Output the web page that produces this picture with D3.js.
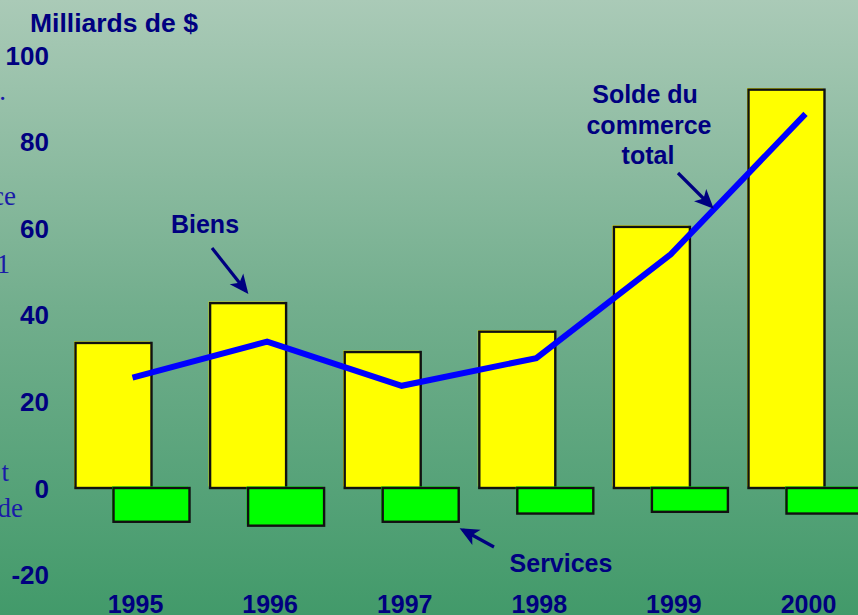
<!DOCTYPE html>
<html><head><meta charset="utf-8">
<script src="https://cdn.jsdelivr.net/npm/d3@7"></script>
<style>html,body{margin:0;padding:0;overflow:hidden;background:#76b290}</style>
</head><body>
<script>
const years = ["1995","1996","1997","1998","1999","2000"];
const biens = [33.5, 42.7, 31.4, 36.1, 60.3, 92.0];
const services = [-7.8, -8.7, -7.8, -5.9, -5.5, -5.9];
const solde = [25.5, 33.8, 23.6, 30.0, 54.0, 86.4];
const yTicks = [-20, 0, 20, 40, 60, 80, 100];

const W = 858, H = 615;
const svg = d3.select("body").append("svg").attr("width", W).attr("height", H);
const defs = svg.append("defs");
const grad = defs.append("linearGradient").attr("id","bg").attr("x1",0).attr("y1",0).attr("x2",0).attr("y2",1);
grad.append("stop").attr("offset","0%").attr("stop-color","#aacab7");
grad.append("stop").attr("offset","50%").attr("stop-color","#72ae8d");
grad.append("stop").attr("offset","100%").attr("stop-color","#429a6a");
const mk = defs.append("marker").attr("id","arr").attr("viewBox","0 0 10 10").attr("refX",8).attr("refY",5)
  .attr("markerWidth",7).attr("markerHeight",6).attr("orient","auto").attr("markerUnits","strokeWidth");
mk.append("path").attr("d","M0,0.5 L10,5 L0,9.5 L2.5,5 Z").attr("fill","#000080");

svg.append("rect").attr("width",W).attr("height",H).attr("fill","url(#bg)");

const navy = "#000080";
const font = "'Liberation Sans', Arial, sans-serif";

// cut-off serif text fragments at the left edge (as in the reference)
const frag = [[".",6,100],["ce",16,205],["1",10,273],["t",9,481],["de",23,517]];
svg.selectAll("text.frag").data(frag).join("text").attr("class","frag")
  .attr("x",d=>d[1]).attr("y",d=>d[2]).attr("text-anchor","end")
  .attr("font-family","'Liberation Serif', 'Times New Roman', serif").attr("font-size",27)
  .attr("fill","#1a1aa8").text(d=>d[0]);

const x = d3.scaleBand().domain(years).range([65.2, 65.2 + 134.6*6]).padding(0);
const y = d3.scaleLinear().domain([-20, 100]).range([574.6, 55]);
const bw = 76;
const cx = d => x(d) + x.bandwidth()/2;

// y axis labels
const yAxis = d3.axisLeft(y).tickValues(yTicks).tickFormat(d => String(d)).tickSize(0).tickPadding(0);
const ga = svg.append("g").attr("transform","translate(49,0)").call(yAxis);
ga.select(".domain").remove();
ga.selectAll("text").attr("font-family",font).attr("font-size",26).attr("font-weight","bold")
  .attr("fill",navy).attr("dy","0.35em");

// x axis labels
const xAxis = d3.axisBottom(x).tickSize(0).tickPadding(0);
const gx = svg.append("g").attr("transform","translate(3,595)").call(xAxis);
gx.select(".domain").remove();
gx.selectAll("text").attr("font-family",font).attr("font-size",25).attr("font-weight","bold")
  .attr("fill",navy).attr("dy","0.72em");

// bars
function drawBars(vals, offset, color) {
  const g = svg.append("g");
  const data = years.map((yr,i)=>({yr, v: vals[i]}));
  g.selectAll("rect.sh").data(data).join("rect")
    .attr("x", d => cx(d.yr) + offset - 1.5)
    .attr("y", d => Math.min(y(d.v), y(0)) - 1.5)
    .attr("width", bw).attr("height", d => Math.abs(y(d.v) - y(0)))
    .attr("fill", color);
  g.selectAll("rect.b").data(data).join("rect")
    .attr("x", d => cx(d.yr) + offset)
    .attr("y", d => Math.min(y(d.v), y(0)))
    .attr("width", bw).attr("height", d => Math.abs(y(d.v) - y(0)))
    .attr("fill", color).attr("stroke","#111").attr("stroke-width",2.4);
}
drawBars(biens, -57, "#ffff00");
drawBars(services, -19, "#00ff00");

// line
const line = d3.line().x((d,i)=>cx(years[i])).y(d=>y(d));
svg.append("path").datum(solde).attr("d", line).attr("fill","none")
  .attr("stroke","#0000ff").attr("stroke-width",6).attr("stroke-linejoin","miter");

// labels
function label(txt, xx, yy, anchor, fs) {
  svg.append("text").attr("x",xx).attr("y",yy).attr("text-anchor",anchor||"middle")
    .attr("font-family",font).attr("font-size",fs||25).attr("font-weight","bold").attr("fill",navy).text(txt);
}
label("Milliards de $", 30, 32, "start", 26.5);
label("Biens", 205, 233);
label("Solde du", 645, 103);
label("commerce", 649, 134);
label("total", 648, 164);
label("Services", 561, 572);

// arrows
const arrows = [[212,248,246,291],[678,173,711,206],[494,547,463,530]];
svg.selectAll("line.arr").data(arrows).join("line")
  .attr("x1",d=>d[0]).attr("y1",d=>d[1]).attr("x2",d=>d[2]).attr("y2",d=>d[3])
  .attr("stroke",navy).attr("stroke-width",3.2).attr("marker-end","url(#arr)");
</script>
</body></html>
